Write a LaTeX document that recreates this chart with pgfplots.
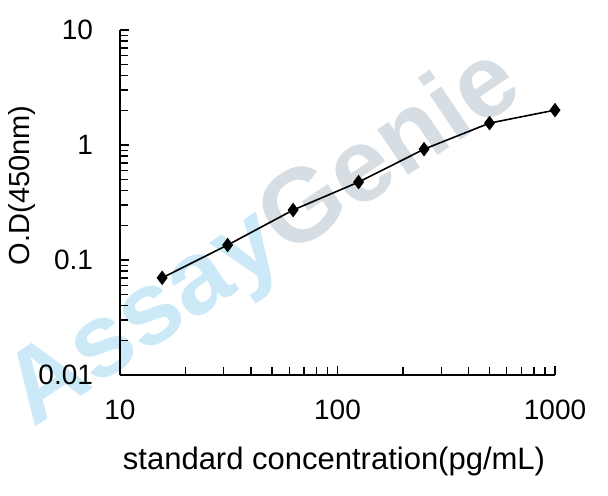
\documentclass[border=0pt]{standalone}
\usepackage{fontspec}
\setmainfont{Liberation Sans}
\usepackage{pgfplots}
\pgfplotsset{compat=1.18}
\pgfdeclarelayer{background}
\pgfsetlayers{background,main}
\definecolor{assayblue}{RGB}{204,233,247}
\definecolor{geniegrey}{RGB}{214,222,228}
\begin{document}
\begin{tikzpicture}
\begin{axis}[
  name=ax,
  xmode=log, ymode=log,
  scale only axis, width=217.5pt, height=172.5pt,
  xmin=10, xmax=1000, ymin=0.01, ymax=10,
  axis lines*=left,
  axis line style={line width=1pt, black},
  tick align=inside,
  major tick length=4.5pt, minor tick length=4pt,
  tick style={black, line width=0.7pt},
  xtick={10,100,1000}, ytick={0.01,0.1,1,10},
  xticklabels={10,100,1000}, yticklabels={0.01,0.1,1,10},
  minor xtick={20,30,40,50,60,70,80,90,200,300,400,500,600,700,800,900},
  minor ytick={0.02,0.03,0.04,0.05,0.06,0.07,0.08,0.09,0.2,0.3,0.4,0.5,0.6,0.7,0.8,0.9,2,3,4,5,6,7,8,9},
  /pgf/number format/assume math mode=true,
  ticklabel style={font=\fontsize{14}{16}\selectfont},
  xticklabel shift=9pt, yticklabel shift=10pt,
  xlabel={standard concentration(pg/mL)},
  ylabel={O.D(450nm)},
  every axis x label/.style={at={(rel axis cs:0.492,-0.252)}, anchor=center, font=\fontsize{15.5}{17}\selectfont},
  every axis y label/.style={at={(rel axis cs:-0.225,0.55)}, anchor=center, rotate=90, font=\fontsize{14.5}{16}\selectfont},
  clip=false,
]
\coordinate (O) at (rel axis cs:0,0);
\addplot[black, line width=0.8pt, mark=diamond*, mark size=3pt, mark options={solid, fill=black}]
  coordinates {(15.625,0.070)(31.25,0.135)(62.5,0.272)(125,0.476)(250,0.92)(500,1.55)(1000,2.01)};
\end{axis}
\begin{pgfonlayer}{background}
\node[rotate=34, inner sep=0, font=\fontsize{52}{52}\selectfont\bfseries] at ([shift={(72.5pt,67.5pt)}]O)
  {\textcolor{assayblue}{Assay}\textcolor{geniegrey}{Genie}};
\end{pgfonlayer}
\pgfresetboundingbox
\path[use as bounding box] ([shift={(-60pt,-60pt)}]O) rectangle ([shift={(244pt,187.5pt)}]O);
\end{tikzpicture}
\end{document}
